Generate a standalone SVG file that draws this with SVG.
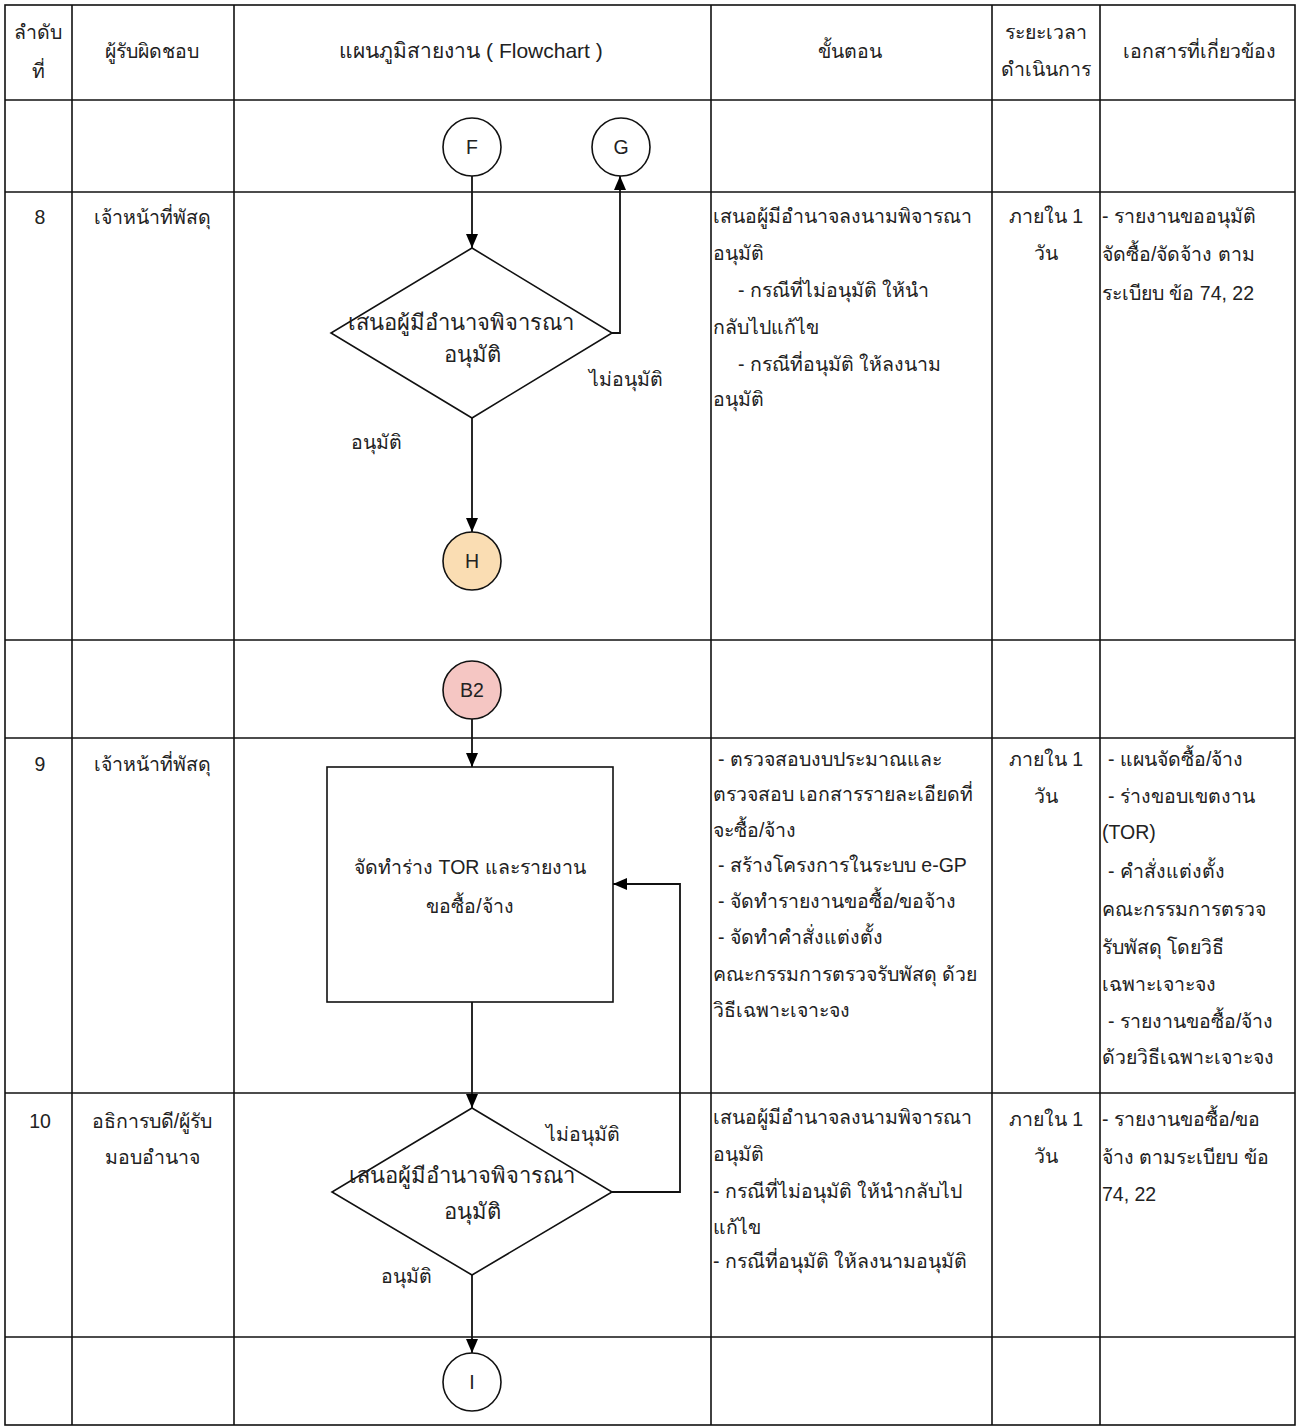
<svg xmlns="http://www.w3.org/2000/svg" width="1300" height="1427" viewBox="0 0 1300 1427">
<defs>
<marker id="arr" viewBox="0 0 14 12" refX="14" refY="6" markerWidth="14" markerHeight="12" markerUnits="userSpaceOnUse" orient="auto"><path d="M0,0 L14,6 L0,12 z" fill="#000"/></marker>
<style>
text{font-family:"Liberation Sans","Noto Sans",sans-serif;font-size:19.5px;fill:#222}
.c{text-anchor:middle}
.big{font-size:22px}
.grid{stroke:#111;stroke-width:1.6;fill:none}
.shape{stroke:#111;stroke-width:1.6;fill:#fff}
.conn{stroke:#111;stroke-width:1.8;fill:none}
</style>
</defs>
<rect x="0" y="0" width="1300" height="1427" fill="#fff"/>
<g id="table" class="grid">
<rect x="5" y="5" width="1290" height="1420"/>
<line x1="72" y1="5" x2="72" y2="1425"/>
<line x1="234" y1="5" x2="234" y2="1425"/>
<line x1="711" y1="5" x2="711" y2="1425"/>
<line x1="992" y1="5" x2="992" y2="1425"/>
<line x1="1100" y1="5" x2="1100" y2="1425"/>
<line x1="5" y1="100" x2="1295" y2="100"/>
<line x1="5" y1="192" x2="1295" y2="192"/>
<line x1="5" y1="640" x2="1295" y2="640"/>
<line x1="5" y1="738" x2="1295" y2="738"/>
<line x1="5" y1="1093" x2="1295" y2="1093"/>
<line x1="5" y1="1337" x2="1295" y2="1337"/>
</g>
<g id="header">
<text x="38" y="39" class="c">ลำดับ</text>
<text x="38" y="78" class="c">ที่</text>
<text x="152" y="58" class="c">ผู้รับผิดชอบ</text>
<text x="471" y="58" class="c" style="font-size:21px">แผนภูมิสายงาน ( Flowchart )</text>
<text x="850" y="58" class="c">ขั้นตอน</text>
<text x="1046" y="39" class="c">ระยะเวลา</text>
<text x="1046" y="76" class="c">ดำเนินการ</text>
<text x="1199" y="58" class="c">เอกสารที่เกี่ยวข้อง</text>
</g>
<g id="row8">
<text x="40" y="224" class="c">8</text>
<text x="152" y="224" class="c">เจ้าหน้าที่พัสดุ</text>
<text x="713" y="223">เสนอผู้มีอำนาจลงนามพิจารณา</text>
<text x="713" y="260">อนุมัติ</text>
<text x="738" y="297">- กรณีที่ไม่อนุมัติ ให้นำ</text>
<text x="713" y="334">กลับไปแก้ไข</text>
<text x="738" y="371">- กรณีที่อนุมัติ ให้ลงนาม</text>
<text x="713" y="406">อนุมัติ</text>
<text x="1046" y="223" class="c">ภายใน 1</text>
<text x="1046" y="260" class="c">วัน</text>
<text x="1102" y="223">- รายงานขออนุมัติ</text>
<text x="1102" y="261">จัดซื้อ/จัดจ้าง ตาม</text>
<text x="1102" y="300">ระเบียบ ข้อ 74, 22</text>
</g>
<g id="row9">
<text x="40" y="771" class="c">9</text>
<text x="152" y="771" class="c">เจ้าหน้าที่พัสดุ</text>
<text x="718" y="766">- ตรวจสอบงบประมาณและ</text>
<text x="713" y="801">ตรวจสอบ เอกสารรายละเอียดที่</text>
<text x="713" y="837">จะซื้อ/จ้าง</text>
<text x="718" y="872">- สร้างโครงการในระบบ e-GP</text>
<text x="718" y="908">- จัดทำรายงานขอซื้อ/ขอจ้าง</text>
<text x="718" y="944">- จัดทำคำสั่งแต่งตั้ง</text>
<text x="713" y="981">คณะกรรมการตรวจรับพัสดุ ด้วย</text>
<text x="713" y="1017">วิธีเฉพาะเจาะจง</text>
<text x="1046" y="766" class="c">ภายใน 1</text>
<text x="1046" y="803" class="c">วัน</text>
<text x="1108" y="766">- แผนจัดซื้อ/จ้าง</text>
<text x="1108" y="803">- ร่างขอบเขตงาน</text>
<text x="1102" y="839">(TOR)</text>
<text x="1108" y="878">- คำสั่งแต่งตั้ง</text>
<text x="1102" y="916">คณะกรรมการตรวจ</text>
<text x="1102" y="954">รับพัสดุ โดยวิธี</text>
<text x="1102" y="991">เฉพาะเจาะจง</text>
<text x="1108" y="1028">- รายงานขอซื้อ/จ้าง</text>
<text x="1102" y="1064">ด้วยวิธีเฉพาะเจาะจง</text>
</g>
<g id="row10">
<text x="40" y="1128" class="c">10</text>
<text x="152" y="1128" class="c">อธิการบดี/ผู้รับ</text>
<text x="152" y="1164" class="c">มอบอำนาจ</text>
<text x="713" y="1124">เสนอผู้มีอำนาจลงนามพิจารณา</text>
<text x="713" y="1161">อนุมัติ</text>
<text x="713" y="1198">- กรณีที่ไม่อนุมัติ ให้นำกลับไป</text>
<text x="713" y="1234">แก้ไข</text>
<text x="713" y="1268">- กรณีที่อนุมัติ ให้ลงนามอนุมัติ</text>
<text x="1046" y="1126" class="c">ภายใน 1</text>
<text x="1046" y="1163" class="c">วัน</text>
<text x="1102" y="1126">- รายงานขอซื้อ/ขอ</text>
<text x="1102" y="1164">จ้าง ตามระเบียบ ข้อ</text>
<text x="1102" y="1201">74, 22</text>
</g>
<g id="connectors" class="conn">
<line x1="472" y1="176" x2="472" y2="248" marker-end="url(#arr)"/>
<polyline points="612,333 620,333 620,176" marker-end="url(#arr)"/>
<line x1="472" y1="418" x2="472" y2="532" marker-end="url(#arr)"/>
<line x1="472" y1="719" x2="472" y2="767" marker-end="url(#arr)"/>
<line x1="472" y1="1002" x2="472" y2="1108" marker-end="url(#arr)"/>
<polyline points="612,1192 680,1192 680,884 613,884" marker-end="url(#arr)"/>
<line x1="472" y1="1275" x2="472" y2="1353" marker-end="url(#arr)"/>
</g>
<g id="F"><circle cx="472" cy="147" r="29" class="shape"/><text x="472" y="154" class="c">F</text></g>
<g id="G"><circle cx="621" cy="147" r="29" class="shape"/><text x="621" y="154" class="c">G</text></g>
<g id="D1"><polygon points="472,248 612,333 472,418 331,333" class="shape"/><text x="461" y="330" class="c big">เสนอผู้มีอำนาจพิจารณา</text><text x="472" y="362" class="c big">อนุมัติ</text></g>
<g id="lbl1"><text x="626" y="386" class="c">ไม่อนุมัติ</text><text x="376" y="449" class="c">อนุมัติ</text></g>
<g id="H"><circle cx="472" cy="561" r="29" class="shape" style="fill:#FADDB3"/><text x="472" y="568" class="c">H</text></g>
<g id="B2"><circle cx="472" cy="690" r="29" class="shape" style="fill:#F5C6C3"/><text x="472" y="697" class="c">B2</text></g>
<g id="P1"><rect x="327" y="767" width="286" height="235" class="shape"/><text x="470" y="874" class="c">จัดทำร่าง TOR และรายงาน</text><text x="470" y="913" class="c">ขอซื้อ/จ้าง</text></g>
<g id="D2"><polygon points="472,1108 612,1192 472,1275 332,1192" class="shape"/><text x="462" y="1183" class="c big">เสนอผู้มีอำนาจพิจารณา</text><text x="472" y="1219" class="c big">อนุมัติ</text></g>
<g id="lbl2"><text x="583" y="1141" class="c">ไม่อนุมัติ</text><text x="406" y="1283" class="c">อนุมัติ</text></g>
<g id="I"><circle cx="472" cy="1382" r="29" class="shape"/><text x="472" y="1389" class="c">I</text></g>
</svg>
